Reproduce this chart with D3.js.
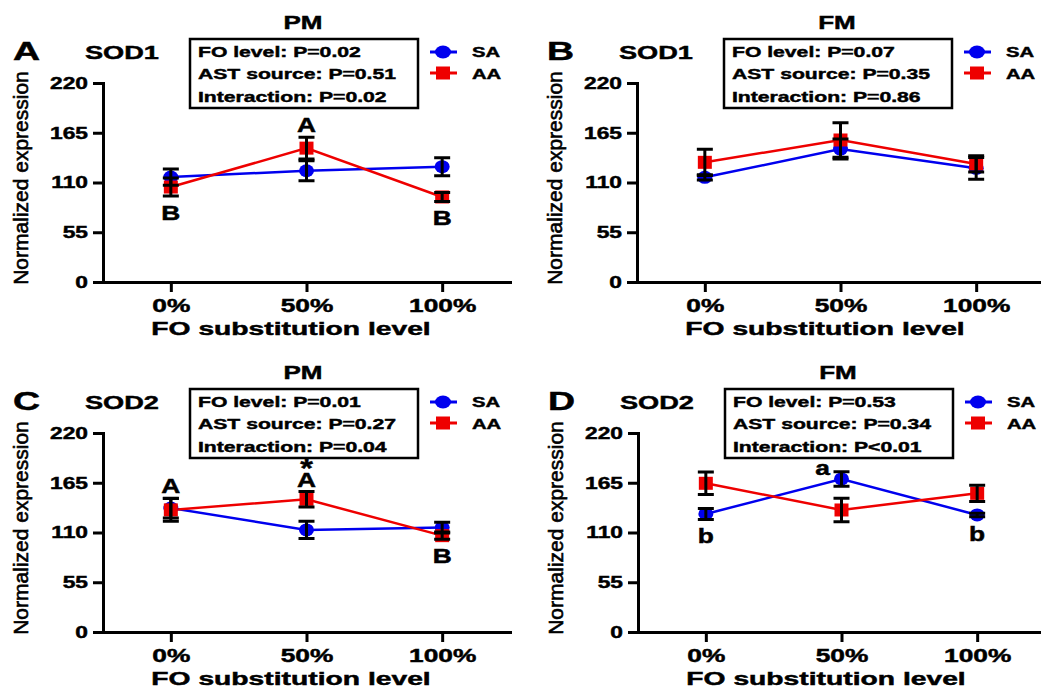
<!DOCTYPE html>
<html><head><meta charset="utf-8">
<script src="https://cdn.jsdelivr.net/npm/d3@7"></script>
<style>body{margin:0;background:#fff}svg{display:block;font-family:"Liberation Sans",Arial,sans-serif}</style>
</head><body><svg id="c" width="1041" height="690"></svg>
<script>
// ---- data ----
const categories = ["0%", "50%", "100%"];
const yTicks = [0, 55, 110, 165, 220];
const seriesNames = ["SA", "AA"];

const saA = [116, 123, 127.5], saA_err = [9, 11, 10];
const aaA = [105, 148, 94],    aaA_err = [10, 12, 5];
const saB = [115.7, 147, 125.7], saB_err = [3, 11, 12];
const aaB = [132.3, 157, 130.5], aaB_err = [14.5, 19, 9];
const saC = [137, 112.8, 115.4], saC_err = [11, 9.5, 6];
const aaC = [135, 146.7, 106.5], aaC_err = [12.5, 8.5, 4];
const saD = [130.5, 169.2, 129.4], saD_err = [6, 8, 2];
const aaD = [164.4, 134.9, 153.3], aaD_err = [12.5, 13, 9];

const boxA = ["FO level: P=0.02", "AST source: P=0.51", "Interaction: P=0.02"];
const boxB = ["FO level: P=0.07", "AST source: P=0.35", "Interaction: P=0.86"];
const boxC = ["FO level: P=0.01", "AST source: P=0.27", "Interaction: P=0.04"];
const boxD = ["FO level: P=0.53", "AST source: P=0.34", "Interaction: P<0.01"];

const notesA = [{cat:"50%", text:"A", pos:"above"}, {cat:"0%", text:"B", pos:"below"}, {cat:"100%", text:"B", pos:"below"}];
const notesB = [];
const notesC = [{cat:"0%", text:"A", pos:"above"}, {cat:"50%", text:"A", pos:"above"}, {cat:"50%", text:"*", pos:"star"}, {cat:"100%", text:"B", pos:"below"}];
const notesD = [{cat:"0%", text:"b", pos:"below"}, {cat:"50%", text:"a", pos:"aboveLeft"}, {cat:"100%", text:"b", pos:"below"}];

// ---- layout ----
const panels = [
  {letter:"A", gene:"SOD1", title:"PM", sa:saA, saErr:saA_err, aa:aaA, aaErr:aaA_err, box:boxA, notes:notesA, ox:103, oy:83},
  {letter:"B", gene:"SOD1", title:"FM", sa:saB, saErr:saB_err, aa:aaB, aaErr:aaB_err, box:boxB, notes:notesB, ox:637, oy:83},
  {letter:"C", gene:"SOD2", title:"PM", sa:saC, saErr:saC_err, aa:aaC, aaErr:aaC_err, box:boxC, notes:notesC, ox:103, oy:433},
  {letter:"D", gene:"SOD2", title:"FM", sa:saD, saErr:saD_err, aa:aaD, aaErr:aaD_err, box:boxD, notes:notesD, ox:638, oy:433}
];
const PW = 407, PH = 199;
const BLUE = "#0000ee", RED = "#ee0000";

const svg = d3.select("#c");

function stext(g, x, y, s, size, sx, anchor, weight) {
  return g.append("text")
    .attr("transform", `translate(${x},${y}) scale(${sx},1)`)
    .attr("text-anchor", anchor || "start")
    .attr("font-size", size)
    .attr("font-weight", weight || "bold")
    .attr("fill", "#000")
    .attr("stroke", "#000").attr("stroke-width", 0.45)
    .text(s);
}

panels.forEach(p => {
  const g = svg.append("g");
  const x = d3.scalePoint().domain(categories).range([p.ox, p.ox + PW]).padding(0.5);
  const y = d3.scaleLinear().domain([0, 220]).range([p.oy + PH, p.oy]);

  // axes
  const sxY = 1.38, sxX = 1.46;
  const ya = g.append("g").attr("transform", `translate(${p.ox},0)`)
    .call(d3.axisLeft(y).tickValues(yTicks).tickSize(10).tickSizeOuter(0).tickPadding(5));
  ya.selectAll("text").attr("font-size", 16.5).attr("font-weight", "bold").attr("font-family", "Liberation Sans, Arial, sans-serif")
    .attr("fill", "#000").attr("stroke", "#000").attr("stroke-width", 0.45)
    .attr("x", -15 / sxY).attr("transform", `scale(${sxY},1)`);
  const xa = g.append("g").attr("transform", `translate(0,${p.oy + PH})`)
    .call(d3.axisBottom(x).tickSize(10).tickSizeOuter(0).tickPadding(7));
  xa.selectAll("text").attr("font-size", 18).attr("font-weight", "bold").attr("font-family", "Liberation Sans, Arial, sans-serif")
    .attr("fill", "#000").attr("stroke", "#000").attr("stroke-width", 0.45).attr("transform", `scale(${sxX},1)`);
  [ya, xa].forEach(a => {
    a.select(".domain").attr("stroke", "#000").attr("stroke-width", 3).attr("stroke-linecap", "square");
    a.selectAll(".tick line").attr("stroke", "#000").attr("stroke-width", 3);
  });
  // axis titles
  stext(g, p.ox + 188, p.oy + 252, "FO substitution level", 18, 1.57, "middle");
  g.append("text").attr("transform", `translate(${p.ox - 75},${p.oy + 95}) rotate(-90)`)
    .attr("text-anchor", "middle").attr("font-size", 21).attr("fill", "#000")
    .attr("stroke", "#000").attr("stroke-width", 0.6).text("Normalized expression");

  // titles
  stext(g, p.ox + 200, p.oy - 54, p.title, 17.7, 1.47, "middle");
  stext(g, p.ox - 90, p.oy - 23, p.letter, 25, 1.5, "start");
  stext(g, p.ox - 18, p.oy - 24, p.gene, 18.6, 1.46, "start");

  // stats box
  g.append("rect").attr("x", p.ox + 87).attr("y", p.oy - 44).attr("width", 228).attr("height", 69)
    .attr("fill", "none").attr("stroke", "#000").attr("stroke-width", 2.5);
  const bl = [-26, -4, 19];
  p.box.forEach((t, i) => stext(g, p.ox + 95, p.oy + bl[i], t, 15, 1.41, "start"));

  // legend
  const legY = [-31, -10], legT = [-26, -4];
  seriesNames.forEach((n, i) => {
    const col = i === 0 ? BLUE : RED;
    g.append("line").attr("x1", p.ox + 327).attr("x2", p.ox + 354).attr("y1", p.oy + legY[i]).attr("y2", p.oy + legY[i])
      .attr("stroke", col).attr("stroke-width", 3);
    if (i === 0) g.append("ellipse").attr("cx", p.ox + 340).attr("cy", p.oy + legY[i]).attr("rx", 8).attr("ry", 6.5).attr("fill", col);
    else g.append("rect").attr("x", p.ox + 333).attr("y", p.oy + legY[i] - 6.5).attr("width", 14).attr("height", 13).attr("fill", col);
    stext(g, p.ox + 369, p.oy + legT[i], n, 15, 1.35, "start");
  });

  // series
  const series = [
    {vals:p.sa, err:p.saErr, col:BLUE, shape:"circle"},
    {vals:p.aa, err:p.aaErr, col:RED, shape:"square"}
  ];
  const line = d3.line().x((d, i) => x(categories[i])).y(d => y(d));
  series.forEach(s => {
    g.append("path").attr("d", line(s.vals)).attr("fill", "none").attr("stroke", s.col).attr("stroke-width", 2.5);
  });
  series.forEach(s => {
    s.vals.forEach((v, i) => {
      const cx = x(categories[i]), cy = y(v);
      if (s.shape === "circle") g.append("ellipse").attr("cx", cx).attr("cy", cy).attr("rx", 7.5).attr("ry", 6.5).attr("fill", s.col);
      else g.append("rect").attr("x", cx - 7).attr("y", cy - 6.5).attr("width", 14).attr("height", 13).attr("fill", s.col);
    });
  });
  series.forEach(s => {
    s.vals.forEach((v, i) => {
      const cx = x(categories[i]), t = y(v + s.err[i]), b = y(v - s.err[i]);
      g.append("path").attr("d", `M${cx},${t}V${b}M${cx - 8},${t}H${cx + 8}M${cx - 8},${b}H${cx + 8}`)
        .attr("fill", "none").attr("stroke", "#000").attr("stroke-width", 3);
    });
  });

  // significance letters
  p.notes.forEach(n => {
    const i = categories.indexOf(n.cat);
    const top = Math.max(p.sa[i] + p.saErr[i], p.aa[i] + p.aaErr[i]);
    const bot = Math.min(p.sa[i] - p.saErr[i], p.aa[i] - p.aaErr[i]);
    const cx = x(n.cat);
    if (n.pos === "above") stext(g, cx, y(top) - 5, n.text, 19.5, 1.35, "middle");
    else if (n.pos === "below") stext(g, cx, y(bot) + 24, n.text, 19.5, 1.35, "middle");
    else if (n.pos === "star") stext(g, cx, y(top) - 5 - 10, n.text, 26, 1.25, "middle");
    else if (n.pos === "aboveLeft") {
      const sTop = p.sa[i] + p.saErr[i];
      stext(g, cx - 19, y(sTop) + 3, n.text, 19.5, 1.35, "middle");
    }
  });
});
</script></body></html>
